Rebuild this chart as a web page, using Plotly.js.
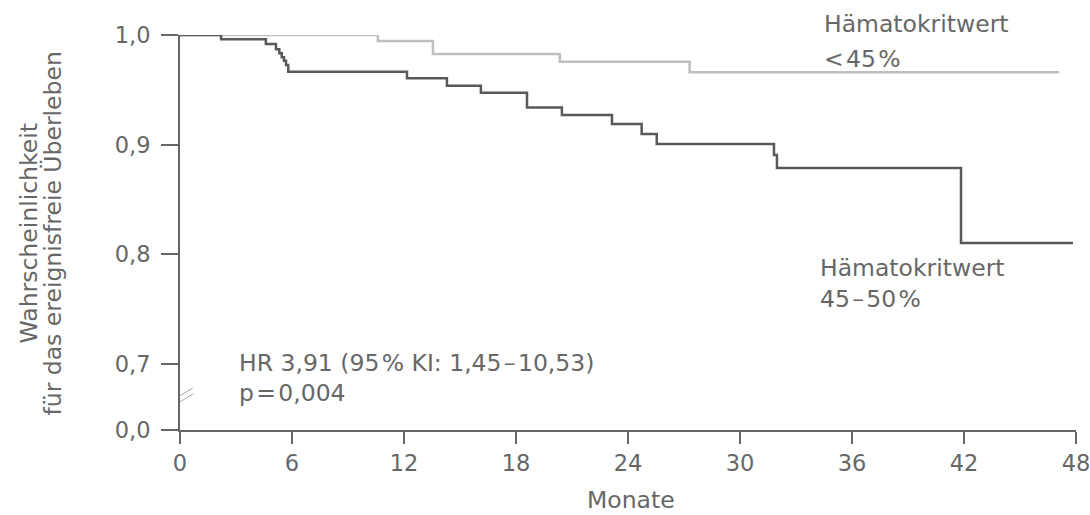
<!DOCTYPE html>
<html>
<head>
<meta charset="utf-8">
<script src="https://cdn.plot.ly/plotly-3.0.1.min.js"></script>
<style>
html,body{margin:0;padding:0;background:#fff;}
</style>
</head>
<body>
<div id="chart" style="width:1090px;height:515px;"></div>
<script>
// Kaplan-Meier step data (months, survival probability)
const lowMonths  = [0, 10.6, 13.55, 20.35, 27.3, 47.1];
const lowSurv    = [1.0, 0.9945, 0.9827, 0.9757, 0.966, 0.966];
const highMonths = [0, 2.2, 4.6, 5.14, 5.32, 5.45, 5.57, 5.68, 5.80, 12.16, 14.3, 16.12, 18.59, 20.46, 23.14, 24.73, 25.54, 31.82, 31.98, 41.84, 47.84];
const highSurv   = [1.0, 0.9961, 0.9918, 0.987, 0.9833, 0.9797, 0.9766, 0.9727, 0.9666, 0.9606, 0.9538, 0.9474, 0.934, 0.9271, 0.9189, 0.9098, 0.9006, 0.8906, 0.8788, 0.8104, 0.8104];
const xTicks = [0, 6, 12, 18, 24, 30, 36, 42, 48];
const yTickVals = [0.64, 0.7, 0.8, 0.9, 1.0];   // 0.64 stands for the broken-axis "0,0"
const yTickText = ["0,0", "0,7", "0,8", "0,9", "1,0"];

const txt = '#676767';
const font = {family: '"DejaVu Sans", Verdana, sans-serif', size: 23.5, color: txt};
const tickFont = {family: '"DejaVu Sans", Verdana, sans-serif', size: 22.5, color: txt};
const H = '\u200A'; // hair space

const traces = [
  {x: lowMonths, y: lowSurv, mode: 'lines', line: {shape: 'hv', color: '#bfbfbf', width: 2.5}, cliponaxis: false, hoverinfo: 'skip'},
  {x: highMonths, y: highSurv, mode: 'lines', line: {shape: 'hv', color: '#595959', width: 2.5}, cliponaxis: false, hoverinfo: 'skip'}
];

const ann = (x, y, text, yref) => ({x, y, xref: 'x', yref: yref || 'y', text, showarrow: false, xanchor: 'left', yanchor: 'middle', align: 'left', font});

const layout = {
  width: 1090, height: 515,
  margin: {l: 180, r: 14, t: 35, b: 85},
  paper_bgcolor: '#fff', plot_bgcolor: '#fff',
  showlegend: false,
  font,
  xaxis: {
    range: [0, 48], tickvals: xTicks, ticktext: xTicks.map(String),
    showgrid: false, zeroline: false, showline: true, linecolor: '#666', linewidth: 2,
    ticks: 'outside', ticklen: 12, tickwidth: 2, tickcolor: '#666',
    ticklabeloverflow: 'allow',
    tickfont: tickFont
  },
  yaxis: {
    range: [0.6398, 1.0], tickvals: yTickVals, ticktext: yTickText,
    showgrid: false, zeroline: false, showline: true, linecolor: '#666', linewidth: 2,
    ticks: 'outside', ticklen: 17, tickwidth: 2, tickcolor: '#666',
    ticklabelstandoff: 6,
    tickfont: tickFont
  },
  shapes: [
    {type: 'line', xref: 'x', yref: 'y', x0: -0.68, x1: 0.68, y0: 0.6643, y1: 0.6780, line: {color: '#aaa', width: 1}},
    {type: 'line', xref: 'x', yref: 'y', x0: -0.63, x1: 0.71, y0: 0.6589, y1: 0.6728, line: {color: '#aaa', width: 1}}
  ],
  annotations: [
    ann(34.4, 1.029, 'Hämatokritwert', 'paper'),
    ann(34.4, 0.938, '&lt;' + H + '45' + H + '%', 'paper'),
    ann(34.18, 0.7871, 'Hämatokritwert'),
    ann(34.18, 0.7589, '45' + H + '–' + H + '50' + H + '%'),
    ann(3.05, 0.7005, 'HR 3,91 (95' + H + '% KI: 1,45' + H + '–' + H + '10,53)'),
    ann(3.05, 0.6732, 'p' + H + '=' + H + '0,004'),
    {xref: 'paper', yref: 'paper', x: -0.168, y: 0.4987, text: 'Wahrscheinlichkeit',
     textangle: -90, showarrow: false, xanchor: 'center', yanchor: 'middle', font},
    {xref: 'paper', yref: 'paper', x: -0.1412, y: 0.4987, text: 'für das ereignisfreie Überleben',
     textangle: -90, showarrow: false, xanchor: 'center', yanchor: 'middle', font},
    {xref: 'paper', yref: 'paper', x: 0.503, y: -0.176, text: 'Monate',
     showarrow: false, xanchor: 'center', yanchor: 'middle', font}
  ]
};

Plotly.newPlot('chart', traces, layout, {staticPlot: true, displayModeBar: false});
</script>
</body>
</html>
